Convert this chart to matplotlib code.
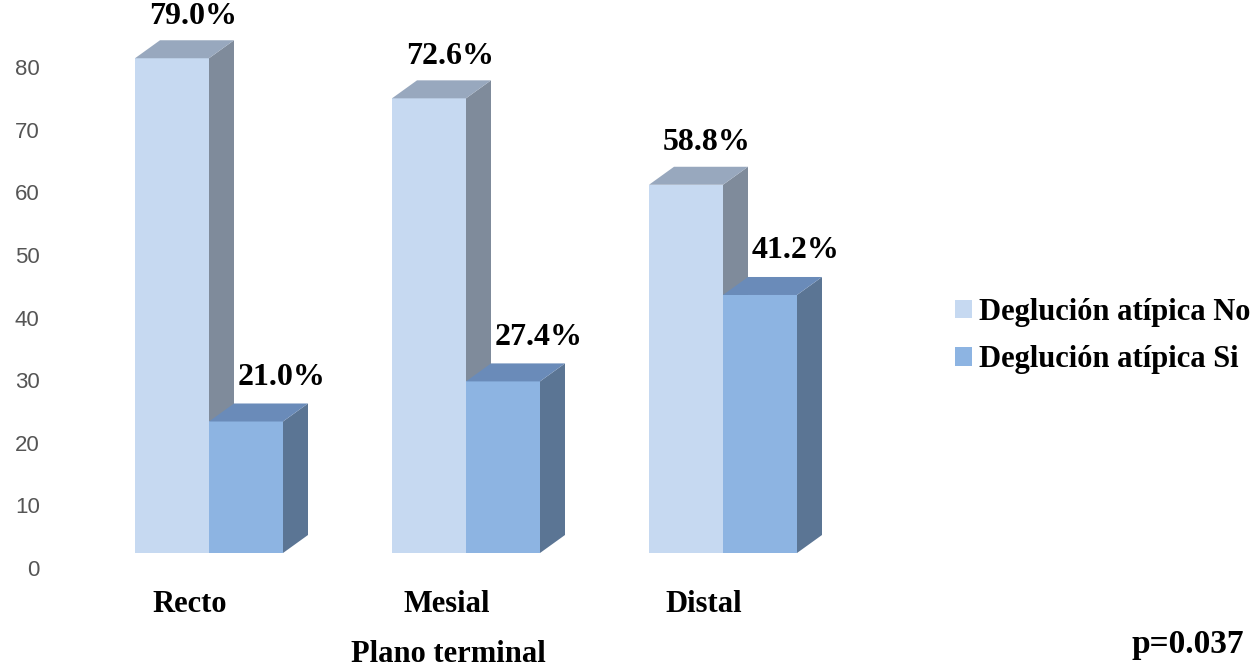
import matplotlib
matplotlib.use('Agg')
import matplotlib.pyplot as plt
from matplotlib.patches import Polygon, Patch

# Data
categories = ['Recto', 'Mesial', 'Distal']
series_names = ['Deglución atípica No', 'Deglución atípica Si']
values_no = [79.0, 72.6, 58.8]
values_si = [21.0, 27.4, 41.2]
yticks = [0, 10, 20, 30, 40, 50, 60, 70, 80]

# Colours (front, top, side) for each series
COLORS = {
    'no': ('#C6D9F1', '#98A8BE', '#7F8B9B'),
    'si': ('#8DB4E2', '#6A8BB9', '#5B7594'),
}

SERIF = ['Liberation Serif', 'DejaVu Serif']
SANS = ['Liberation Sans', 'DejaVu Sans']

# geometry in data units (1 category step = 257 px, 1 y unit ~ 6.26 px)
PX_X = 1 / 257.0
PX_Y = 80 / 501.0
BAR_W = 74 * PX_X
DX = 25 * PX_X
DY = 18 * PX_Y
BASE = 15 * PX_Y


def draw_bar(ax, x0, v, colors):
    front, top, side = colors
    b = BASE
    ax.add_patch(Polygon([(x0, b), (x0 + BAR_W, b), (x0 + BAR_W, b + v), (x0, b + v)],
                         closed=True, facecolor=front, edgecolor='none', clip_on=False))
    ax.add_patch(Polygon([(x0 + BAR_W, b), (x0 + BAR_W + DX, b + DY),
                          (x0 + BAR_W + DX, b + v + DY), (x0 + BAR_W, b + v)],
                         closed=True, facecolor=side, edgecolor='none', clip_on=False))
    ax.add_patch(Polygon([(x0, b + v), (x0 + BAR_W, b + v),
                          (x0 + BAR_W + DX, b + v + DY), (x0 + DX, b + v + DY)],
                         closed=True, facecolor=top, edgecolor='none', clip_on=False))


fig = plt.figure(figsize=(12.58, 6.67), dpi=100)
ax = fig.add_axes([80 / 1258, 99 / 667, 820 / 1258, 501 / 667])
ax.set_xlim((80 - 209) * PX_X, (900 - 209) * PX_X)
ax.set_ylim(0, 80)

for i in range(len(categories)):
    draw_bar(ax, i - BAR_W, values_no[i], COLORS['no'])
    draw_bar(ax, i, values_si[i], COLORS['si'])
    # value labels
    ax.text(i - 16 * PX_X, BASE + values_no[i] + DY + 24 * PX_Y, f'{values_no[i]:.1f}%',
            ha='center', va='center', fontsize=23, fontweight='bold', family=SERIF, clip_on=False)
    ax.text(i + 73 * PX_X, BASE + values_si[i] + DY + 26 * PX_Y, f'{values_si[i]:.1f}%',
            ha='center', va='center', fontsize=23, fontweight='bold', family=SERIF, clip_on=False)

for s in ax.spines.values():
    s.set_visible(False)

ax.set_yticks(yticks)
ax.set_yticklabels([str(t) for t in yticks], family=SANS, fontsize=16, color='#555555')
ax.tick_params(axis='y', length=0, pad=29)

ax.set_xticks([i - 19 * PX_X for i in range(len(categories))])
ax.set_xticklabels(categories, family=SERIF, fontsize=22, fontweight='bold')
ax.tick_params(axis='x', length=0, pad=16)

ax.set_xlabel('Plano terminal', family=SERIF, fontsize=22, fontweight='bold')
ax.xaxis.set_label_coords((448 - 80) / 820, -(640 - 568) / 501)

handles = [Patch(facecolor=COLORS['no'][0]), Patch(facecolor=COLORS['si'][0])]
fig.legend(handles, series_names, loc='center left', bbox_to_anchor=(955 / 1258, 1 - 336 / 667),
           frameon=False, handlelength=0.55, handleheight=0.55, handletextpad=0.25,
           labelspacing=0.6, borderpad=0, borderaxespad=0,
           prop={'family': SERIF, 'size': 22, 'weight': 'bold'})

fig.text(1188 / 1258, 1 - 645 / 667, 'p=0.037', ha='center', va='center',
         family=SERIF, fontsize=24, fontweight='bold')

fig.savefig('out.png', dpi=100)
